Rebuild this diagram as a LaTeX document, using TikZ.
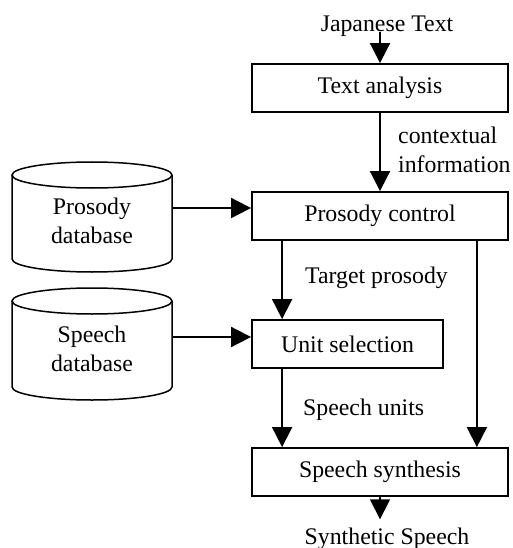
\documentclass[tikz,border=0pt]{standalone}
\usepackage{fontspec}
\setmainfont{Liberation Serif}
\usetikzlibrary{arrows.meta}
\begin{document}
\begin{tikzpicture}[x=1pt,y=-1pt,
  font=\fontsize{23.8}{28.5}\selectfont,
  box/.style={draw, line width=1.8pt, minimum height=48pt, inner sep=0pt},
  lbl/.style={inner sep=0pt},
  cyl/.style={line width=1.5pt},
  arr/.style={line width=1.8pt, -{Triangle[length=20pt,width=20pt]}}]
\useasboundingbox (0,0) rectangle (513,548);
% boxes
\node[box, minimum width=256pt] (ta) at (380,88) {Text analysis};
\node[box, minimum width=256pt] (pc) at (380,216) {Prosody control};
\node[box, minimum width=191pt] (us) at (347.5,344) {Unit selection};
\node[box, minimum width=256pt] (ss) at (380,472) {Speech synthesis};
% input / output texts
\node[lbl, anchor=base] (jt) at (387,32) {Japanese Text};
\node[lbl, inner ysep=8pt, anchor=base] (ssp) at (387,544) {Synthetic Speech};
% cylinders
\draw[cyl] (92,175) ellipse [x radius=80pt, y radius=13pt];
\draw[cyl] (12,175) -- (12,259) arc[start angle=180, end angle=360, x radius=80pt, y radius=13pt] -- (172,175);
\draw[cyl] (92,301) ellipse [x radius=80pt, y radius=13pt];
\draw[cyl] (12,301) -- (12,387) arc[start angle=180, end angle=360, x radius=80pt, y radius=13pt] -- (172,301);
\node[lbl, align=center, minimum width=160pt] (pdb) at (92,221) {Prosody\\database};
\node[lbl, align=center, minimum width=160pt] (sdb) at (92,349) {Speech\\database};
% edge labels
\node[lbl, align=left, anchor=north west] (ci) at (398,127) {contextual\\information};
\node[lbl, anchor=base west] (tp) at (305,283) {Target prosody};
\node[lbl, anchor=base west] (su) at (303,415) {Speech units};
% connectors
\draw[arr] (jt.base -| ta.north) -- (ta.north);
\draw[arr] (ta.south) -- (pc.north);
\coordinate (pin) at ([yshift=8pt]pc.west);
\draw[arr] (pin -| pdb.east) -- (pin);
\coordinate (uin) at ([yshift=7pt]us.west);
\draw[arr] (uin -| sdb.east) -- (uin);
\coordinate (p1) at ([xshift=31pt]pc.south west);
\draw[arr] (p1) -- (p1 |- us.north);
\coordinate (p2) at ([xshift=-32pt]pc.south east);
\draw[arr] (p2) -- (p2 |- ss.north);
\coordinate (u1) at ([xshift=31pt]us.south west);
\draw[arr] (u1) -- (u1 |- ss.north);
\draw[arr] (ss.south) -- (ssp.north -| ss.south);
\end{tikzpicture}
\end{document}
